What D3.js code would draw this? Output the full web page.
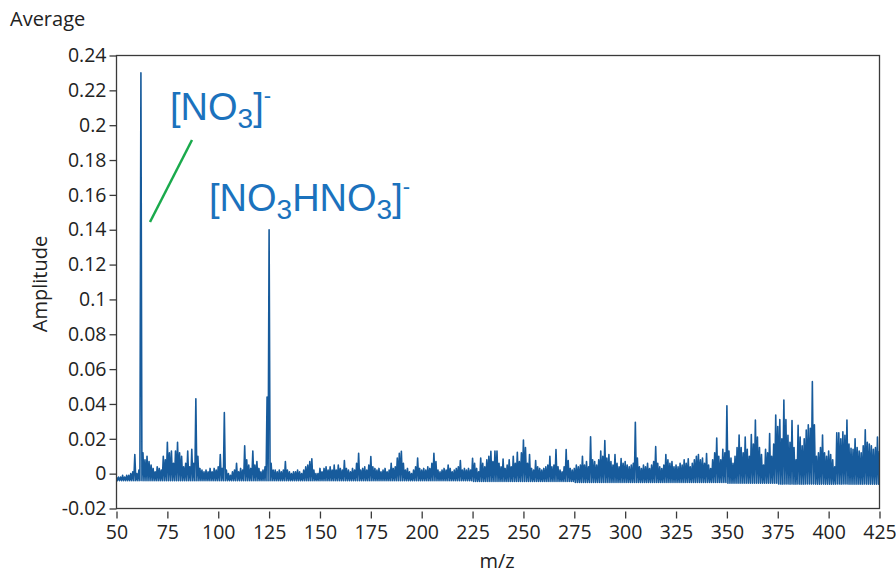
<!DOCTYPE html>
<html>
<head>
<meta charset="utf-8">
<script src="https://cdn.jsdelivr.net/npm/d3@7"></script>
<style>
body { margin: 0; background: #fff; }
svg { display: block; }
</style>
</head>
<body>
<script>
// m/z axis starts here, one value per unit
var mzStart = 50;

// top of the trace at each m/z (50 .. 425)
var ampHigh = [
  -0.002, -0.002, -0.002, -0.001, -0.002, -0.001, -0.001, 0.000, 0.001, 0.011, 0.000, 0.002, 0.230, 0.012, 0.008, 0.010, 0.007, 0.005, 0.003, 0.001, 0.004, 0.003, 0.002, 0.010, 0.008,
  0.018, 0.012, 0.013, 0.006, 0.013, 0.018, 0.012, 0.010, 0.004, 0.006, 0.013, 0.004, 0.014, 0.006, 0.043, 0.010, 0.003, 0.002, 0.001, 0.002, 0.001, 0.003, 0.001, 0.003, 0.002,
  0.004, 0.011, 0.003, 0.035, 0.002, 0.000, -0.001, 0.001, 0.002, 0.006, 0.001, 0.003, 0.002, 0.016, 0.008, 0.005, 0.003, 0.013, 0.005, 0.007, 0.003, 0.001, 0.002, 0.004, 0.044,
  0.140, 0.006, 0.002, 0.002, 0.001, 0.002, 0.001, 0.002, 0.007, 0.002, 0.001, 0.000, 0.001, 0.001, 0.002, 0.001, 0.000, 0.002, 0.004, 0.005, 0.007, 0.0085, 0.002, 0.000, 0.000,
  0.003, 0.001, 0.003, 0.004, 0.002, 0.004, 0.002, 0.005, 0.002, 0.005, 0.003, 0.002, 0.0075, 0.003, 0.002, 0.001, 0.003, 0.002, 0.006, 0.0117, 0.002, 0.003, 0.004, 0.002, 0.005,
  0.0098, 0.004, 0.003, 0.002, 0.003, 0.001, 0.002, 0.003, 0.001, 0.002, 0.006, 0.003, 0.004, 0.009, 0.0117, 0.0128, 0.006, 0.002, 0.003, 0.001, 0.000, 0.002, 0.004, 0.009, 0.003,
  0.002, 0.003, 0.002, 0.004, 0.003, 0.006, 0.0117, 0.007, 0.002, 0.001, 0.002, 0.003, 0.002, 0.005, 0.003, 0.001, 0.002, 0.003, 0.004, 0.0075, 0.002, 0.003, 0.002, 0.003, 0.002,
  0.0088, 0.006, 0.003, 0.001, 0.009, 0.006, 0.004, 0.008, 0.010, 0.0128, 0.007, 0.013, 0.013, 0.006, 0.004, 0.0084, 0.003, 0.005, 0.008, 0.004, 0.010, 0.006, 0.0122, 0.007, 0.012,
  0.0193, 0.015, 0.006, 0.011, 0.003, 0.002, 0.0075, 0.004, 0.003, 0.002, 0.003, 0.004, 0.005, 0.010, 0.004, 0.005, 0.0138, 0.004, 0.002, 0.001, 0.004, 0.0138, 0.0075, 0.003, 0.002,
  0.003, 0.005, 0.004, 0.005, 0.010, 0.005, 0.007, 0.004, 0.0212, 0.008, 0.007, 0.005, 0.008, 0.013, 0.010, 0.019, 0.009, 0.011, 0.007, 0.005, 0.011, 0.006, 0.004, 0.0087, 0.006,
  0.007, 0.005, 0.004, 0.005, 0.006, 0.0295, 0.009, 0.004, 0.003, 0.005, 0.004, 0.006, 0.003, 0.005, 0.007, 0.0155, 0.006, 0.004, 0.003, 0.005, 0.011, 0.008, 0.006, 0.007, 0.004,
  0.005, 0.004, 0.006, 0.005, 0.008, 0.006, 0.0085, 0.004, 0.006, 0.008, 0.010, 0.011, 0.008, 0.009, 0.006, 0.0115, 0.005, 0.003, 0.008, 0.012, 0.0205, 0.010, 0.008, 0.014, 0.012,
  0.039, 0.013, 0.009, 0.006, 0.010, 0.015, 0.0222, 0.015, 0.012, 0.021, 0.014, 0.010, 0.0225, 0.017, 0.0308, 0.021, 0.015, 0.011, 0.005, 0.014, 0.012, 0.023, 0.010, 0.017, 0.0337,
  0.027, 0.031, 0.020, 0.0423, 0.031, 0.022, 0.018, 0.0305, 0.015, 0.008, 0.0277, 0.021, 0.016, 0.020, 0.025, 0.028, 0.026, 0.0528, 0.028, 0.010, 0.012, 0.015, 0.0222, 0.012, 0.010,
  0.013, 0.011, 0.008, 0.004, 0.0235, 0.0235, 0.020, 0.024, 0.022, 0.0308, 0.017, 0.0145, 0.014, 0.020, 0.015, 0.013, 0.012, 0.016, 0.0252, 0.018, 0.017, 0.016, 0.014, 0.015, 0.021,
  0.013
];

// bottom of the trace, one value per 25 m/z block
var ampLow = [-0.004, -0.004, -0.004, -0.004, -0.004, -0.004, -0.004, -0.0045, -0.0045, -0.005, -0.005, -0.005, -0.0055, -0.006, -0.006];

var xTicks = [50, 75, 100, 125, 150, 175, 200, 225, 250, 275, 300, 325, 350, 375, 400, 425];
var yTicks = [-0.02, 0, 0.02, 0.04, 0.06, 0.08, 0.1, 0.12, 0.14, 0.16, 0.18, 0.2, 0.22, 0.24];

function main(){

  var w = 896, h = 575;
  var pl = 116.5, pr = 879.5, pt = 55.5, pb = 508.5;
  var axisFont = "'Open Sans', 'Noto Sans', sans-serif";
  var traceColor = "#175b9c";
  var labelColor = "#1b72bd";

  var svg = d3.select("body").append("svg")
    .attr("width", w)
    .attr("height", h);

  var x = d3.scaleLinear().domain([xTicks[0], xTicks[xTicks.length - 1]]).range([pl, pr]);
  var y = d3.scaleLinear().domain([yTicks[0], yTicks[yTicks.length - 1]]).range([pb, pt]);

  // trace: top value at each m/z, then the block's low value half a unit later
  var pts = [];
  ampHigh.forEach(function(v, i){
    var mz = mzStart + i;
    pts.push([mz, v]);
    if(i < ampHigh.length - 1){
      pts.push([mz + 0.5, ampLow[Math.floor(i / 25)]]);
    }
  });

  var line = d3.line()
    .x(function(d){ return x(d[0]); })
    .y(function(d){ return y(d[1]); });

  svg.append("defs").append("clipPath").attr("id", "plot")
    .append("rect")
    .attr("x", pl).attr("y", pt)
    .attr("width", pr - pl).attr("height", pb - pt);

  svg.append("path")
    .datum(pts)
    .attr("clip-path", "url(#plot)")
    .attr("fill", "none")
    .attr("stroke", traceColor)
    .attr("stroke-width", 1.6)
    .attr("stroke-linejoin", "round")
    .attr("d", line);

  // frame
  svg.append("rect")
    .attr("x", pl).attr("y", pt)
    .attr("width", pr - pl).attr("height", pb - pt)
    .attr("fill", "none")
    .attr("stroke", "#3a3a3a")
    .attr("stroke-width", 1.3);

  // axes
  var yAxis = d3.axisLeft(y)
    .tickValues(yTicks)
    .tickSize(7)
    .tickPadding(3)
    .tickFormat(function(d){ return String(+d.toFixed(2)); });

  var gy = svg.append("g")
    .attr("transform", "translate(" + pl + ",0)")
    .call(yAxis);

  var xAxis = d3.axisBottom(x)
    .tickValues(xTicks)
    .tickSize(7)
    .tickPadding(7)
    .tickFormat(d3.format("d"));

  var gx = svg.append("g")
    .attr("transform", "translate(0," + (pb + 3) + ")")
    .call(xAxis);

  [gx, gy].forEach(function(g){
    g.select(".domain").remove();
    g.selectAll(".tick line").attr("stroke", "#3a3a3a").attr("stroke-width", 1.3);
    g.selectAll(".tick text")
      .attr("fill", "#222")
      .style("font-family", axisFont)
      .style("font-size", "19.5px");
  });

  // titles
  svg.append("text")
    .attr("x", 10).attr("y", 26)
    .attr("fill", "#222")
    .style("font-family", axisFont)
    .style("font-size", "20px")
    .text("Average");

  svg.append("text")
    .attr("transform", "translate(47,284) rotate(-90)")
    .attr("text-anchor", "middle")
    .attr("fill", "#222")
    .style("font-family", axisFont)
    .style("font-size", "20px")
    .text("Amplitude");

  svg.append("text")
    .attr("x", 497).attr("y", 568)
    .attr("text-anchor", "middle")
    .attr("fill", "#222")
    .style("font-family", axisFont)
    .style("font-size", "20px")
    .text("m/z");

  // peak labels
  var peakLabels = [
    {pos: [170, 120], parts: [["[NO", 0], ["3", 1], ["]", 0], ["-", 2]]},
    {pos: [209, 211], parts: [["[NO", 0], ["3", 1], ["HNO", 0], ["3", 1], ["]", 0], ["-", 2]]}
  ];

  peakLabels.forEach(function(lab){
    var t = svg.append("text")
      .attr("x", lab.pos[0]).attr("y", lab.pos[1])
      .attr("fill", labelColor)
      .style("font-family", "'Liberation Sans', Arial, sans-serif")
      .style("font-size", "38px");
    var shift = 0;
    lab.parts.forEach(function(p){
      var target = p[1] === 1 ? 8 : (p[1] === 2 ? -17 : 0);
      t.append("tspan")
        .attr("dy", target - shift)
        .style("font-size", p[1] === 0 ? "38px" : (p[1] === 1 ? "28px" : "22px"))
        .text(p[0]);
      shift = target;
    });
  });

  svg.append("line")
    .attr("x1", 150).attr("y1", 222)
    .attr("x2", 192).attr("y2", 140)
    .attr("stroke", "#1aaa4c")
    .attr("stroke-width", 2.5);
}

main();
</script>
</body>
</html>
